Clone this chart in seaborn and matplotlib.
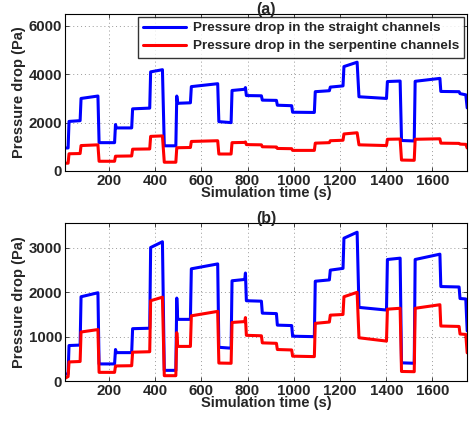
import numpy as np
import pandas as pd
import matplotlib
matplotlib.use('Agg')
import matplotlib.pyplot as plt
import seaborn as sns

# time points (s), shared by all four series
time = [10, 24, 28, 76, 80, 153, 158, 225, 229, 233, 299, 303, 377, 381, 432,
        440, 490, 494, 498, 553, 557, 671, 676, 729, 733, 788, 791, 795, 860,
        864, 925, 929, 991, 995, 1089, 1093, 1154, 1158, 1213, 1217, 1274,
        1282, 1401, 1405, 1460, 1466, 1521, 1525, 1632, 1636, 1715, 1719,
        1744, 1750]

# (a) pressure drop (Pa)
a_straight = [950, 950, 2050, 2080, 3000, 3100, 1170, 1170, 1920, 1780, 1780,
              2570, 2600, 4100, 4190, 1040, 1040, 3100, 2800, 2820, 3490, 3610,
              2040, 2000, 3330, 3380, 3450, 3120, 3110, 2930, 2920, 2720, 2700,
              2430, 2420, 3280, 3320, 3470, 3520, 4320, 4500, 3070, 3000, 3700,
              3720, 1260, 1240, 3710, 3830, 3290, 3280, 3200, 3150, 2610]
a_serpentine = [320, 320, 710, 720, 1050, 1080, 400, 400, 610, 610, 620, 900,
                910, 1430, 1450, 360, 360, 960, 960, 970, 1220, 1250, 700, 700,
                1170, 1180, 1200, 1090, 1080, 1000, 990, 930, 920, 850, 850,
                1150, 1170, 1250, 1270, 1530, 1580, 1080, 1050, 1310, 1320, 450,
                440, 1310, 1330, 1150, 1140, 1110, 1100, 950]

# (b) pressure drop (Pa)
b_straight = [155, 160, 800, 810, 1900, 1990, 385, 385, 710, 640, 640, 1180,
              1190, 3010, 3140, 240, 240, 1870, 1390, 1390, 2530, 2640, 760,
              740, 2260, 2290, 2435, 1810, 1800, 1530, 1520, 1260, 1250, 1010,
              1000, 2250, 2280, 2500, 2540, 3220, 3355, 1660, 1600, 2740, 2770,
              410, 400, 2740, 2860, 2130, 2120, 1860, 1850, 1130]
b_serpentine = [60, 100, 430, 440, 1105, 1160, 195, 195, 340, 340, 345, 650,
                660, 1810, 1890, 120, 120, 1090, 780, 780, 1470, 1570, 405, 400,
                1320, 1340, 1430, 1030, 1020, 860, 850, 710, 700, 560, 550, 1300,
                1330, 1485, 1500, 1900, 2000, 975, 900, 1620, 1640, 215, 210,
                1640, 1720, 1240, 1230, 1060, 1050, 635]

x_ticks = [200, 400, 600, 800, 1000, 1200, 1400, 1600]

sns.set_theme(style="ticks")
plt.rcParams['font.family'] = ['Liberation Sans', 'DejaVu Sans']
plt.rcParams['font.weight'] = 'bold'
plt.rcParams['axes.labelweight'] = 'bold'
plt.rcParams['axes.titleweight'] = 'bold'

fig = plt.figure(figsize=(4.7, 4.21), dpi=100)
ax1 = fig.add_axes([0.138, 0.594, 0.856, 0.373])
ax2 = fig.add_axes([0.138, 0.095, 0.856, 0.375])

panels = [
    (ax1, a_straight, a_serpentine, '(a)', 6500, [0, 2000, 4000, 6000]),
    (ax2, b_straight, b_serpentine, '(b)', 3560, [0, 1000, 2000, 3000]),
]

for ax, s1, s2, title, ymax, yt in panels:
    df = pd.DataFrame({'t': time, 'straight': s1, 'serpentine': s2})
    sns.lineplot(data=df, x='t', y='straight', ax=ax, color=(0, 0, 1), lw=2.2,
                 label='Pressure drop in the straight channels')
    sns.lineplot(data=df, x='t', y='serpentine', ax=ax, color=(1, 0, 0), lw=2.2,
                 label='Pressure drop in the serpentine channels')
    ax.set_xlim(10, 1750)
    ax.set_ylim(0, ymax)
    ax.set_xticks(x_ticks)
    ax.set_yticks(yt)
    ax.grid(True, linestyle=(0, (1, 3)), color='#9a9a9a', lw=0.7)
    ax.tick_params(direction='in', top=True, right=True, labelsize=10.8,
                   length=3, pad=2, width=0.6)
    for lab in ax.get_xticklabels() + ax.get_yticklabels():
        lab.set_fontweight('bold')
    for sp in ax.spines.values():
        sp.set_color('black')
        sp.set_linewidth(0.8)
    ax.set_xlabel('Simulation time (s)', fontsize=10.5, labelpad=-1)
    ax.set_ylabel('Pressure drop (Pa)', fontsize=10.5, labelpad=2)
    ax.set_title(title, fontsize=11.5, pad=0)

leg = ax1.legend(loc='upper right', fontsize=9.7, frameon=True, fancybox=False,
                 borderpad=0.4, handlelength=3.2, labelspacing=0.4,
                 borderaxespad=0.2, handletextpad=0.5)
leg.get_frame().set_edgecolor('black')
leg.get_frame().set_linewidth(1.0)
for txt in leg.get_texts():
    txt.set_fontweight('bold')
ax2.get_legend().remove()

fig.savefig('out.png', dpi=100)
